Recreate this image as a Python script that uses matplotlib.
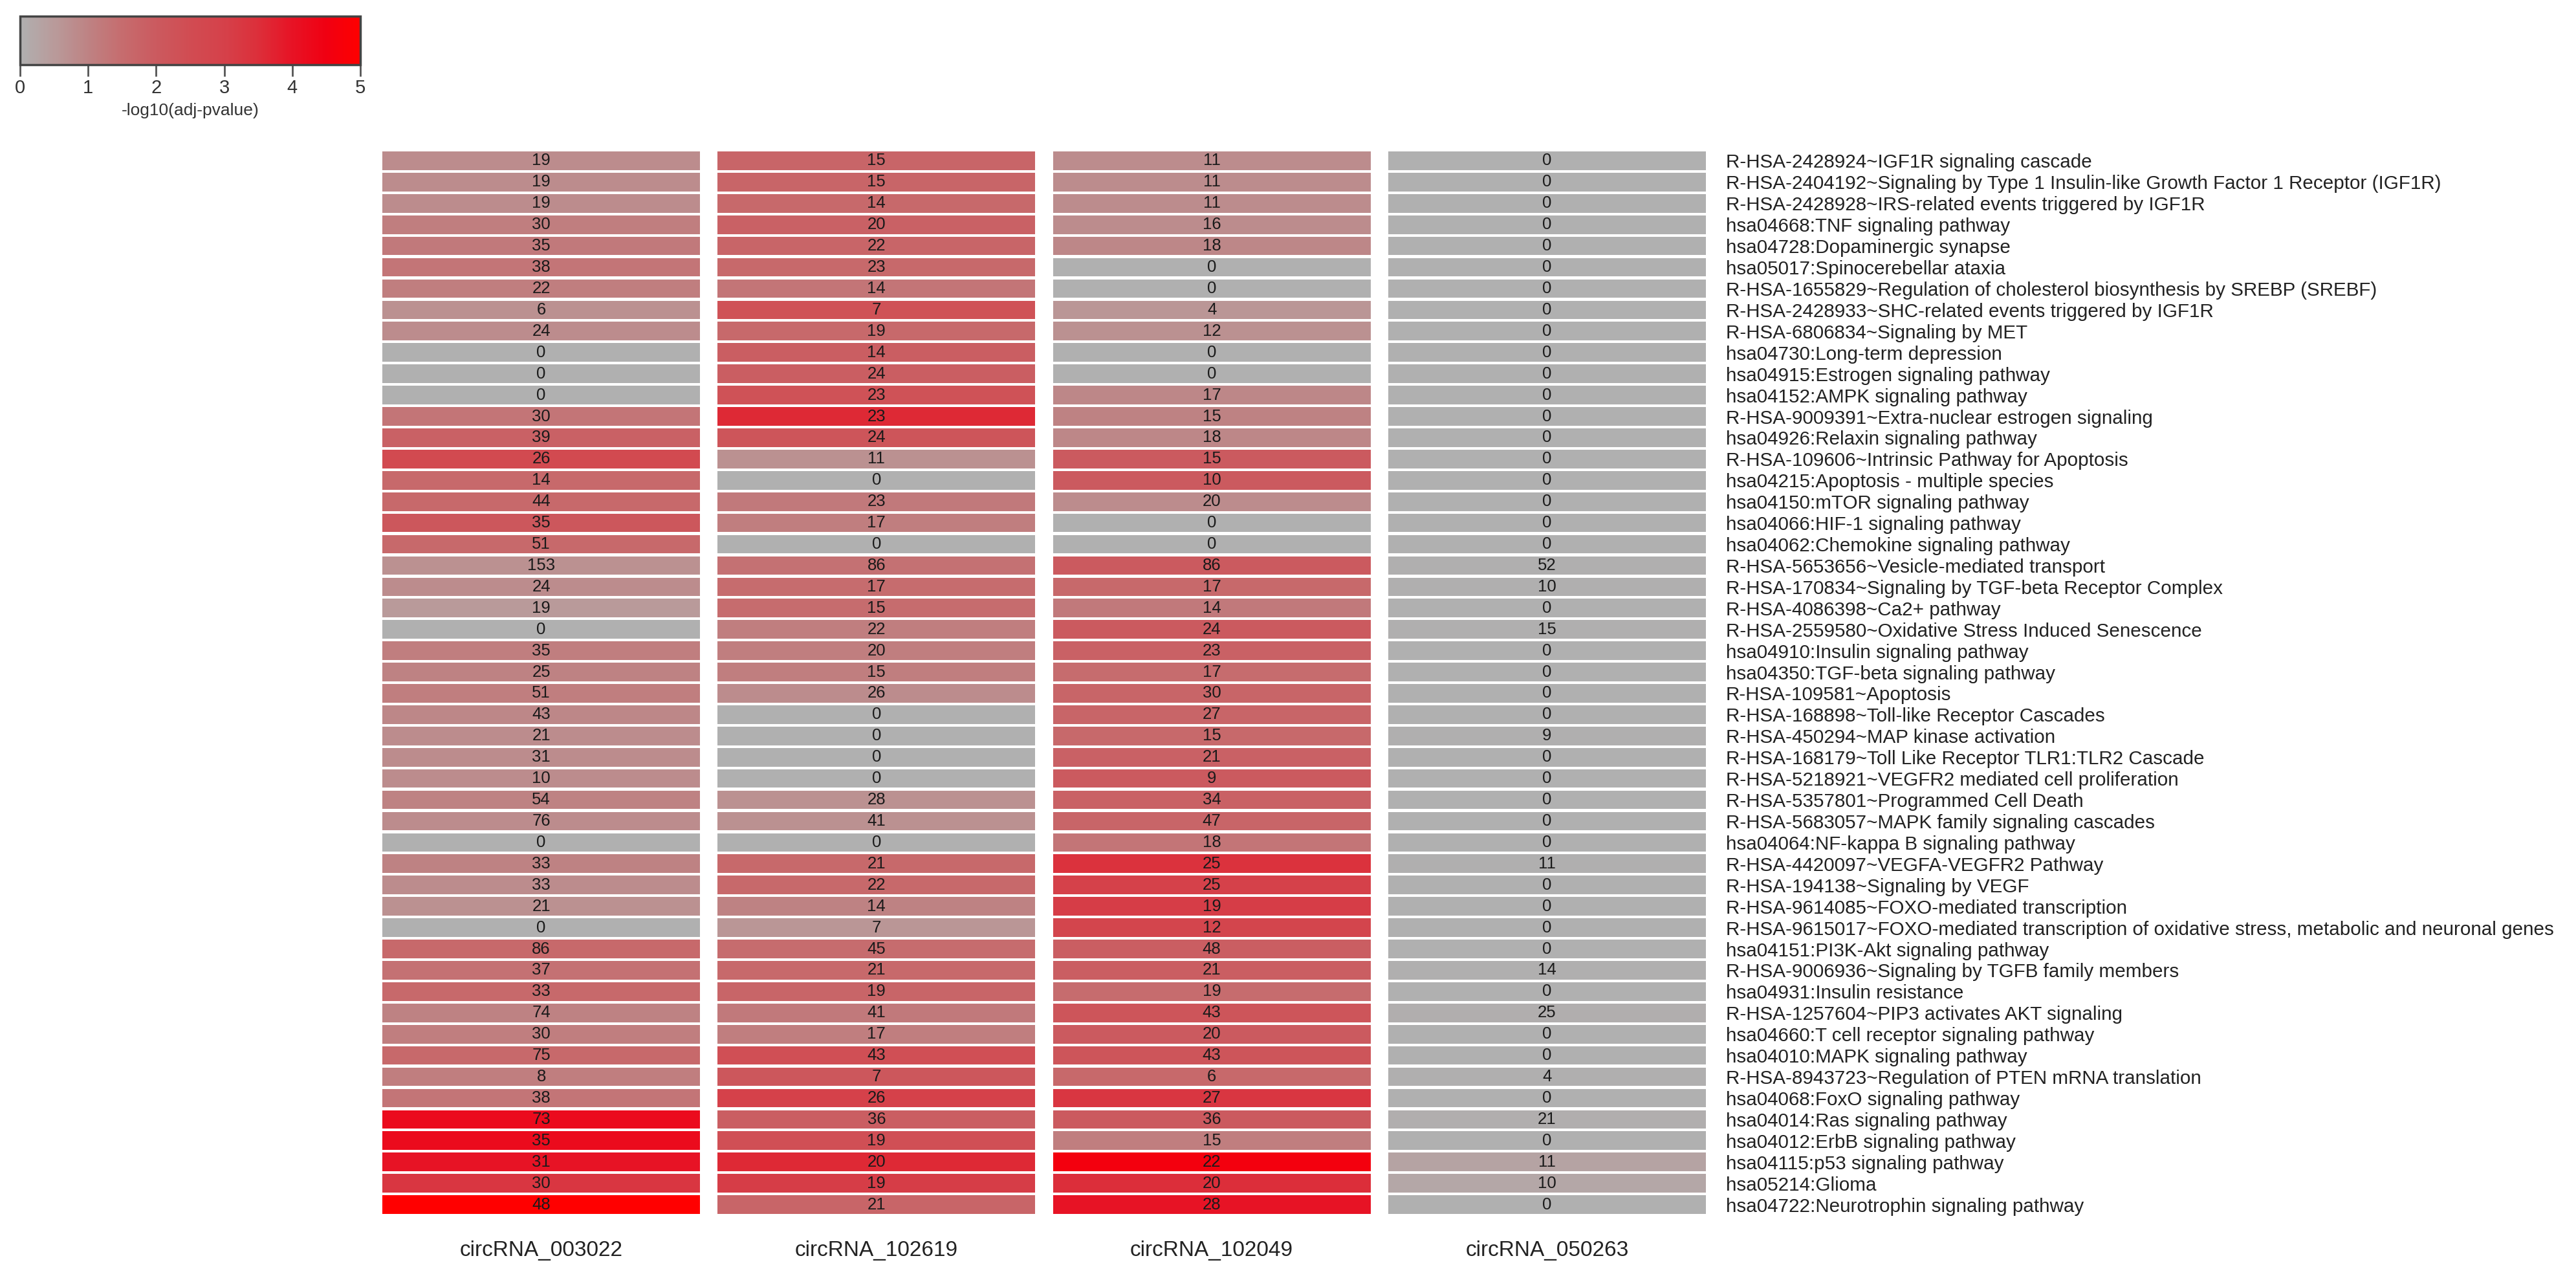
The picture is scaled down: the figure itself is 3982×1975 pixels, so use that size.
import numpy as np
import matplotlib
matplotlib.use("Agg")
import matplotlib.pyplot as plt
from matplotlib.colors import LinearSegmentedColormap, Normalize
from matplotlib.cm import ScalarMappable

plt.rcParams['font.family'] = ['Liberation Sans', 'DejaVu Sans']

# Data
samples = ['circRNA_003022', 'circRNA_102619', 'circRNA_102049', 'circRNA_050263']

pathways = [
    'R-HSA-2428924~IGF1R signaling cascade',
    'R-HSA-2404192~Signaling by Type 1 Insulin-like Growth Factor 1 Receptor (IGF1R)',
    'R-HSA-2428928~IRS-related events triggered by IGF1R',
    'hsa04668:TNF signaling pathway',
    'hsa04728:Dopaminergic synapse',
    'hsa05017:Spinocerebellar ataxia',
    'R-HSA-1655829~Regulation of cholesterol biosynthesis by SREBP (SREBF)',
    'R-HSA-2428933~SHC-related events triggered by IGF1R',
    'R-HSA-6806834~Signaling by MET',
    'hsa04730:Long-term depression',
    'hsa04915:Estrogen signaling pathway',
    'hsa04152:AMPK signaling pathway',
    'R-HSA-9009391~Extra-nuclear estrogen signaling',
    'hsa04926:Relaxin signaling pathway',
    'R-HSA-109606~Intrinsic Pathway for Apoptosis',
    'hsa04215:Apoptosis - multiple species',
    'hsa04150:mTOR signaling pathway',
    'hsa04066:HIF-1 signaling pathway',
    'hsa04062:Chemokine signaling pathway',
    'R-HSA-5653656~Vesicle-mediated transport',
    'R-HSA-170834~Signaling by TGF-beta Receptor Complex',
    'R-HSA-4086398~Ca2+ pathway',
    'R-HSA-2559580~Oxidative Stress Induced Senescence',
    'hsa04910:Insulin signaling pathway',
    'hsa04350:TGF-beta signaling pathway',
    'R-HSA-109581~Apoptosis',
    'R-HSA-168898~Toll-like Receptor Cascades',
    'R-HSA-450294~MAP kinase activation',
    'R-HSA-168179~Toll Like Receptor TLR1:TLR2 Cascade',
    'R-HSA-5218921~VEGFR2 mediated cell proliferation',
    'R-HSA-5357801~Programmed Cell Death',
    'R-HSA-5683057~MAPK family signaling cascades',
    'hsa04064:NF-kappa B signaling pathway',
    'R-HSA-4420097~VEGFA-VEGFR2 Pathway',
    'R-HSA-194138~Signaling by VEGF',
    'R-HSA-9614085~FOXO-mediated transcription',
    'R-HSA-9615017~FOXO-mediated transcription of oxidative stress, metabolic and neuronal genes',
    'hsa04151:PI3K-Akt signaling pathway',
    'R-HSA-9006936~Signaling by TGFB family members',
    'hsa04931:Insulin resistance',
    'R-HSA-1257604~PIP3 activates AKT signaling',
    'hsa04660:T cell receptor signaling pathway',
    'hsa04010:MAPK signaling pathway',
    'R-HSA-8943723~Regulation of PTEN mRNA translation',
    'hsa04068:FoxO signaling pathway',
    'hsa04014:Ras signaling pathway',
    'hsa04012:ErbB signaling pathway',
    'hsa04115:p53 signaling pathway',
    'hsa05214:Glioma',
    'hsa04722:Neurotrophin signaling pathway',
]

# gene counts per pathway, one list per circRNA
count_003022 = [19, 19, 19, 30, 35, 38, 22, 6, 24, 0, 0, 0, 30, 39, 26, 14, 44, 35, 51, 153,
                24, 19, 0, 35, 25, 51, 43, 21, 31, 10, 54, 76, 0, 33, 33, 21, 0, 86, 37, 33,
                74, 30, 75, 8, 38, 73, 35, 31, 30, 48]
count_102619 = [15, 15, 14, 20, 22, 23, 14, 7, 19, 14, 24, 23, 23, 24, 11, 0, 23, 17, 0, 86,
                17, 15, 22, 20, 15, 26, 0, 0, 0, 0, 28, 41, 0, 21, 22, 14, 7, 45, 21, 19,
                41, 17, 43, 7, 26, 36, 19, 20, 19, 21]
count_102049 = [11, 11, 11, 16, 18, 0, 0, 4, 12, 0, 0, 17, 15, 18, 15, 10, 20, 0, 0, 86,
                17, 14, 24, 23, 17, 30, 27, 15, 21, 9, 34, 47, 18, 25, 25, 19, 12, 48, 21, 19,
                43, 20, 43, 6, 27, 36, 15, 22, 20, 28]
count_050263 = [0, 0, 0, 0, 0, 0, 0, 0, 0, 0, 0, 0, 0, 0, 0, 0, 0, 0, 0, 52,
                10, 0, 15, 0, 0, 0, 0, 9, 0, 0, 0, 0, 0, 11, 0, 0, 0, 0, 14, 0,
                25, 0, 0, 4, 0, 21, 0, 11, 10, 0]

# -log10(adj-pvalue)
logp_003022 = [0.8, 0.8, 0.8, 1.1, 1.2, 1.3, 1.1, 0.7, 0.8, 0, 0, 0, 1.3, 1.8, 2.6, 1.6, 1.6, 2.1, 1.6, 0.7,
               0.8, 0.5, 0, 1.1, 1.0, 1.1, 0.9, 0.8, 0.8, 0.8, 1.0, 0.8, 0, 1.0, 0.8, 0.7, 0, 1.6, 1.4, 1.6,
               1.0, 1.1, 1.6, 1.1, 1.3, 4.2, 4.2, 4.0, 3.3, 5.0]
logp_102619 = [1.7, 1.7, 1.6, 1.8, 1.7, 1.6, 1.3, 2.3, 1.6, 1.9, 1.9, 2.3, 3.6, 2.2, 0.7, 0, 1.2, 1.1, 0, 1.4,
               1.5, 1.5, 1.1, 1.1, 1.1, 0.8, 0, 0, 0, 0, 0.7, 0.7, 0, 1.6, 1.6, 1.0, 0.6, 1.5, 1.6, 1.7,
               1.2, 1.1, 2.4, 2.1, 3.0, 1.9, 2.4, 3.6, 3.1, 1.7]
logp_102049 = [0.8, 0.8, 0.8, 0.8, 0.9, 0, 0, 0.6, 0.7, 0, 0, 0.9, 1.0, 0.9, 2.0, 2.0, 0.8, 0, 0, 2.0,
               1.6, 1.2, 2.0, 1.8, 1.5, 1.7, 1.7, 1.6, 1.8, 2.0, 1.8, 1.7, 1.3, 3.4, 3.0, 3.1, 2.8, 1.9, 1.9, 1.5,
               2.2, 2.0, 2.2, 1.6, 3.3, 2.0, 1.1, 4.6, 3.5, 4.0]
logp_050263 = [0, 0, 0, 0, 0, 0, 0, 0, 0, 0, 0, 0, 0, 0, 0, 0, 0, 0, 0, 0.03,
               0.03, 0, 0.03, 0, 0, 0, 0, 0.02, 0, 0, 0, 0, 0, 0.02, 0, 0, 0, 0, 0.03, 0,
               0.04, 0, 0, 0.02, 0, 0.04, 0, 0.3, 0.2, 0]

counts = [count_003022, count_102619, count_102049, count_050263]
logps = [logp_003022, logp_102619, logp_102049, logp_050263]

# grey -> red colour scale like the colour key
cmap = LinearSegmentedColormap.from_list('grey_red', [
    (0.0, '#b0b0b0'), (0.1, '#b99a9a'), (0.2, '#be8283'), (0.3, '#c66c6e'),
    (0.4, '#cb5a5f'), (0.5, '#d14c52'), (0.6, '#d5414a'), (0.7, '#dc2f3a'),
    (0.8, '#e71325'), (0.9, '#f00012'), (1.0, '#ff0000')])
norm = Normalize(vmin=0, vmax=5)

W, H = 3982, 1975
fig = plt.figure(figsize=(W / 100, H / 100), dpi=100)

# heatmap area in pixels
hx0, hx1, hy0, hy1 = 591, 2637, 232, 1878
ax = fig.add_axes([hx0 / W, 1 - hy1 / H, (hx1 - hx0) / W, (hy1 - hy0) / H])

col_w = 491
col_gap = 27
n_rows = len(pathways)
rows = np.arange(n_rows)
centers = []
for j in range(len(samples)):
    left = j * (col_w + col_gap)
    centers.append(left + col_w / 2)
    colors = cmap(norm(np.array(logps[j])))
    ax.barh(rows, col_w, left=left, height=0.87, color=colors, edgecolor='none')
    for i in range(n_rows):
        ax.text(left + col_w / 2, i, str(counts[j][i]), ha='center', va='center',
                fontsize=18.5, color='#1a1a1a')

ax.set_xlim(0, 4 * col_w + 3 * col_gap)
ax.set_ylim(n_rows - 0.5, -0.5)
for s in ax.spines.values():
    s.set_visible(False)

ax.yaxis.tick_right()
ax.set_yticks(rows)
ax.set_yticklabels(pathways, fontsize=21.3, color='#222222')
ax.tick_params(axis='y', length=0, pad=22)
ax.set_xticks(centers)
ax.set_xticklabels(samples, fontsize=24, color='#222222')
ax.tick_params(axis='x', length=0, pad=28)

# colour key in the top left corner
cax = fig.add_axes([31 / W, 1 - 100 / H, 526 / W, 75 / H])
cb = fig.colorbar(ScalarMappable(norm=norm, cmap=cmap), cax=cax, orientation='horizontal',
                  ticks=[0, 1, 2, 3, 4, 5])
cb.outline.set_edgecolor('#444444')
cb.outline.set_linewidth(2.5)
cb.ax.tick_params(length=13, width=2, color='#555555', labelsize=21, labelcolor='#333333', pad=3)
cb.set_label('-log10(adj-pvalue)', fontsize=19, color='#333333', labelpad=6)

fig.savefig('out.png', dpi=100, facecolor='white')
